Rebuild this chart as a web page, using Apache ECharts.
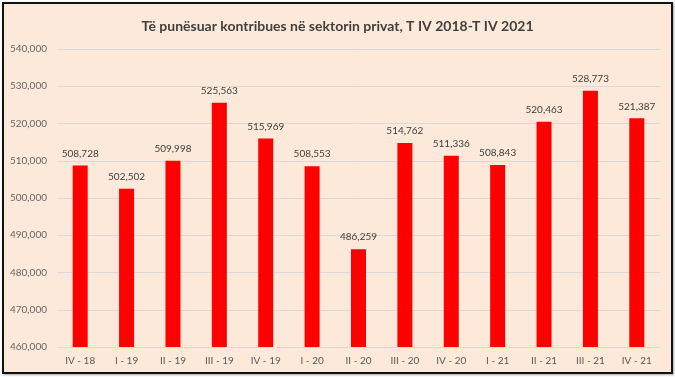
<!DOCTYPE html>
<html>
<head>
<meta charset="utf-8">
<script src="https://cdn.jsdelivr.net/npm/echarts@6/dist/echarts.min.js"></script>
<style>
  html, body { margin: 0; padding: 0; background: #fff; }
  .frame {
    position: absolute; left: 2px; top: 2px;
    width: 667px; height: 368px;
    border: 2px solid #111;
    box-shadow: 1px 1px 2px rgba(0,0,0,0.35);
    background: #FDE9D9;
  }
  #chart { width: 667px; height: 368px; }
</style>
</head>
<body>
<div class="frame"><div id="chart"></div></div>
<script>
const titleText = 'Të punësuar kontribues në sektorin privat, T IV 2018-T IV 2021';
const quarters = ['IV - 18', 'I - 19', 'II - 19', 'III - 19', 'IV - 19', 'I - 20', 'II - 20',
  'III - 20', 'IV - 20', 'I - 21', 'II - 21', 'III - 21', 'IV - 21'];
const employed = [508728, 502502, 509998, 525563, 515969, 508553, 486259,
  514762, 511336, 508843, 520463, 528773, 521387];

const fmt = (v) => v.toLocaleString('en-US');

const chart = echarts.init(document.getElementById('chart'));
chart.setOption({
  backgroundColor: 'transparent',
  textStyle: { fontFamily: 'Lato' },
  title: {
    text: titleText,
    left: 'center',
    top: 10,
    textStyle: { fontFamily: 'Lato', fontSize: 14, fontWeight: 'bold', color: '#404040' },
  },
  grid: { left: 53, right: 11, top: 45, bottom: 25 },
  xAxis: {
    type: 'category',
    data: quarters,
    axisLine: { show: false },
    axisTick: { show: false },
    axisLabel: { color: '#595959', fontSize: 10, margin: 9 },
  },
  yAxis: {
    type: 'value',
    min: 460000,
    max: 540000,
    interval: 10000,
    axisLabel: { color: '#666666', fontSize: 10, margin: 10, formatter: fmt },
    splitLine: { lineStyle: { color: '#D9D9D9', width: 1 } },
  },
  series: [{
    type: 'bar',
    data: employed,
    barWidth: 15,
    itemStyle: { color: '#FF0000' },
    label: {
      show: true,
      position: 'top',
      distance: 7,
      color: '#404040',
      fontSize: 10,
      formatter: (p) => fmt(p.value),
    },
  }],
});
</script>
</body>
</html>
